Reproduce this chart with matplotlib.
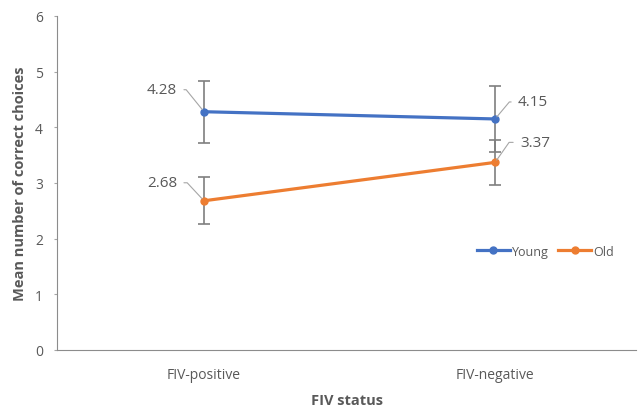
import matplotlib.pyplot as plt
from matplotlib.lines import Line2D

plt.rcParams['font.family'] = ['Open Sans', 'DejaVu Sans']

categories = ['FIV-positive', 'FIV-negative']
young = [4.28, 4.15]
young_err = [0.56, 0.59]
old = [2.68, 3.37]
old_err = [0.42, 0.41]

blue = '#4472C4'
orange = '#ED7D31'
grey = '#595959'

fig = plt.figure(figsize=(6.38, 4.10), dpi=100)
ax = fig.add_axes([0.0893, 0.144, 0.908, 0.8146])

x = [0.5, 1.5]
ax.errorbar(x, young, yerr=young_err, fmt='none', ecolor='#7f7f7f', elinewidth=1.2, capsize=4, capthick=1.2, zorder=1)
ax.errorbar(x, old, yerr=old_err, fmt='none', ecolor='#7f7f7f', elinewidth=1.2, capsize=4, capthick=1.2, zorder=1)
ax.plot(x, young, color=blue, lw=2.3, marker='o', ms=5, zorder=3)
ax.plot(x, old, color=orange, lw=2.3, marker='o', ms=5, zorder=3)

# value labels with leader lines (offsets in pixels)
labels = [
    (x[0], young[0], '4.28', (-27, 22), 'right', 129),
    (x[0], old[0], '2.68', (-27, 18), 'right', 133),
    (x[1], young[1], '4.15', (23, 17), 'left', 50),
    (x[1], old[1], '3.37', (25, 20), 'left', 55),
]
for xv, yv, txt, off, ha, angb in labels:
    ax.annotate(txt, (xv, yv), xytext=off, textcoords='offset pixels',
                ha=ha, va='center', fontsize=11, color=grey,
                arrowprops=dict(arrowstyle='-', color='#a6a6a6', lw=0.8,
                                shrinkA=3, shrinkB=2,
                                connectionstyle=f'angle,angleA=0,angleB={angb},rad=0'))

ax.set_xlim(-0.005, 1.985)
ax.set_ylim(0, 6)
ax.set_xticks(x)
ax.set_xticklabels(categories)
ax.set_yticks(range(7))
ax.tick_params(axis='x', length=0, pad=12, labelsize=10, colors=grey)
ax.tick_params(axis='y', length=2, pad=8, labelsize=10, colors=grey, color='#a6a6a6')
for s in ['top', 'right']:
    ax.spines[s].set_visible(False)
for s in ['left', 'bottom']:
    ax.spines[s].set_color('#8c8c8c')
ax.set_xlabel('FIV status', fontsize=10.5, fontweight='bold', color=grey, labelpad=8)
ax.set_ylabel('Mean number of correct choices', fontsize=10.5, fontweight='bold', color=grey, labelpad=6)

handles = [Line2D([], [], color=blue, lw=2.3, marker='o', ms=5),
           Line2D([], [], color=orange, lw=2.3, marker='o', ms=5)]
ax.legend(handles, ['Young', 'Old'], loc='center', bbox_to_anchor=(0.843, 0.296),
          ncol=2, frameon=False, fontsize=9, labelcolor=grey,
          handlelength=2.6, handletextpad=0.15, columnspacing=0.8)

fig.savefig('out.png', dpi=100)
